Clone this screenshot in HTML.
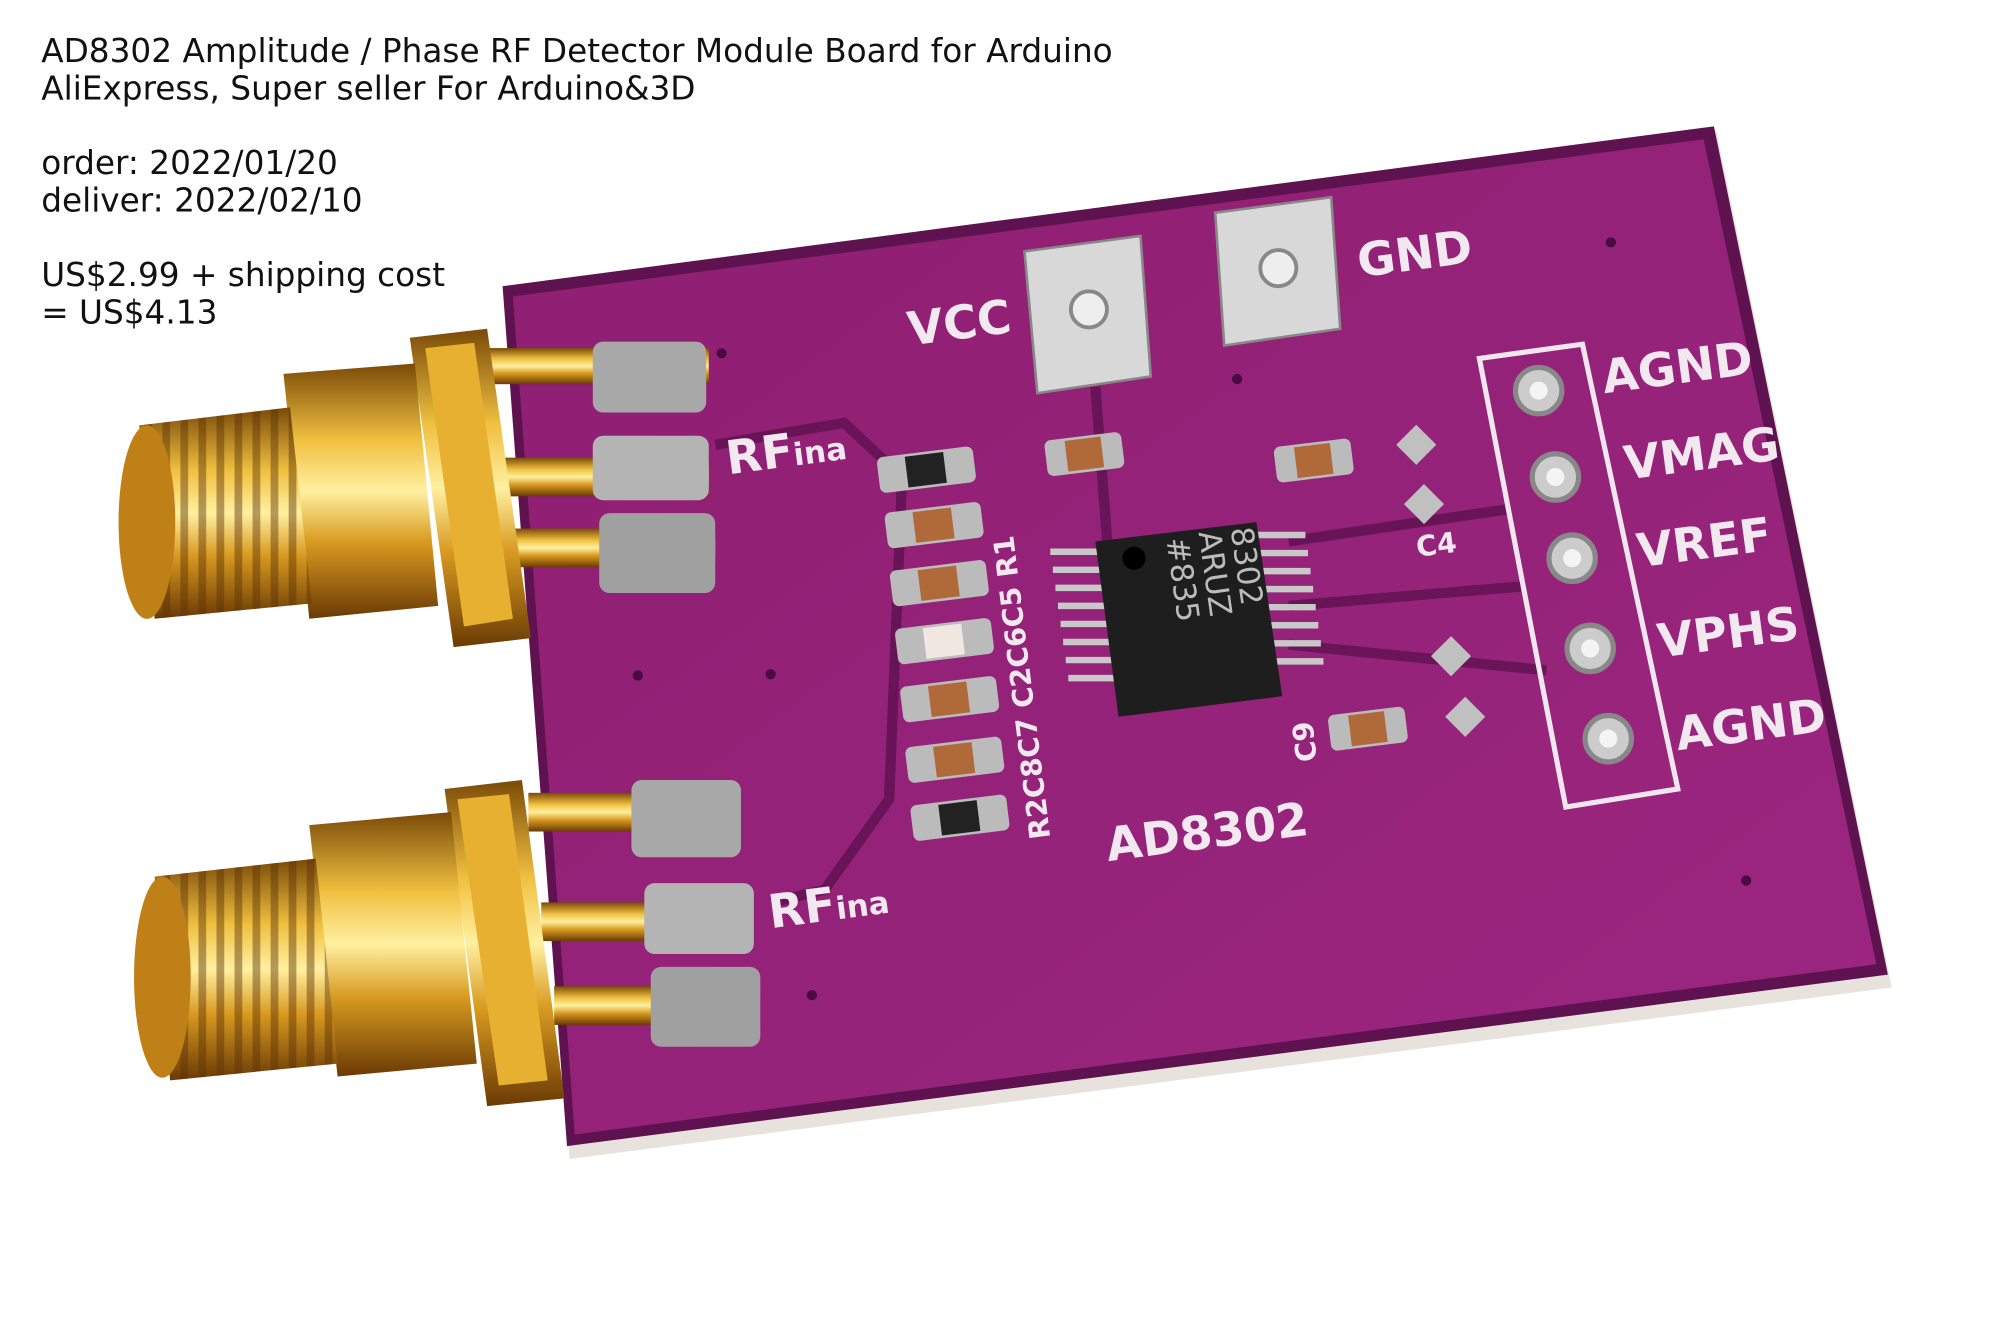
<!DOCTYPE html>
<html><head><meta charset="utf-8">
<style>
html,body{margin:0;padding:0;background:#fff;width:2000px;height:1333px;overflow:hidden}
svg{display:block}
.t{font-family:"DejaVu Sans","Liberation Sans",sans-serif;font-size:25.4px;fill:#111}
.w{font-family:"DejaVu Sans","Liberation Sans",sans-serif;fill:#f2e8f0;font-weight:bold}
</style></head>
<body>
<svg width="2000" height="1333" viewBox="0 0 1552 1034" preserveAspectRatio="none" xmlns="http://www.w3.org/2000/svg">
<defs>
<linearGradient id="gold" x1="0" y1="0" x2="0" y2="1">
<stop offset="0" stop-color="#7a4a08"/><stop offset="0.3" stop-color="#f0c040"/><stop offset="0.5" stop-color="#fff0a0"/><stop offset="0.7" stop-color="#d89a20"/><stop offset="1" stop-color="#6a3a05"/>
</linearGradient>
<linearGradient id="board" x1="0" y1="0" x2="1" y2="1">
<stop offset="0" stop-color="#8e1f72"/><stop offset="1" stop-color="#9c2680"/>
</linearGradient>
<pattern id="thread" width="14" height="10" patternUnits="userSpaceOnUse">
<rect x="0" width="6" height="10" fill="#5a3006" opacity="0.45"/>
</pattern>
</defs>
<rect width="1552" height="1034" fill="#fff"/>
<text class="t" x="32" y="48">AD8302 Amplitude / Phase RF Detector Module Board for Arduino</text>
<text class="t" x="32" y="77">AliExpress, Super seller For Arduino&amp;3D</text>
<text class="t" x="32" y="135">order: 2022/01/20</text>
<text class="t" x="32" y="164">deliver: 2022/02/10</text>
<text class="t" x="32" y="222">US$2.99 + shipping cost</text>
<text class="t" x="32" y="251">= US$4.13</text>

<polygon points="392,228 1332,102 1468,766 442,899" fill="#e8e2dc"/>
<polygon points="390,222 1330,98 1465,756 440,889" fill="#5e1250"/>
<polygon points="398,230 1322,108 1456,748 446,880" fill="url(#board)"/>
<g stroke="#5e1250" stroke-width="8" fill="none" opacity="0.8">
<path d="M555,345 L655,328 L700,370 L690,620 L640,690 L600,700"/>
<path d="M850,300 L860,430"/>
<path d="M1000,420 L1170,395"/>
<path d="M1000,470 L1180,455"/>
<path d="M1000,500 L1200,520"/>
</g>
<polygon points="795,195 885,183 893,292 805,305" fill="#d8d8d8" stroke="#888" stroke-width="2"/>
<circle cx="845" cy="240" r="14" fill="#eee" stroke="#888" stroke-width="3"/>
<polygon points="943,165 1033,153 1040,255 950,268" fill="#d8d8d8" stroke="#888" stroke-width="2"/>
<circle cx="992" cy="208" r="14" fill="#eee" stroke="#888" stroke-width="3"/>
<text class="w" font-size="36" transform="translate(706,268) rotate(-7.5)">VCC</text>
<text class="w" font-size="36" transform="translate(1055,215) rotate(-7.5)">GND</text>
<polygon points="1148,278 1228,267 1302,612 1215,626" fill="none" stroke="#f0e6ee" stroke-width="4"/>
<g fill="#ccc" stroke="#888" stroke-width="4">
<circle cx="1194" cy="303" r="18"/><circle cx="1207" cy="370" r="18"/><circle cx="1220" cy="433" r="18"/><circle cx="1234" cy="503" r="18"/><circle cx="1248" cy="573" r="18"/>
</g>
<g fill="#f4f4f4"><circle cx="1194" cy="303" r="7"/><circle cx="1207" cy="370" r="7"/><circle cx="1220" cy="433" r="7"/><circle cx="1234" cy="503" r="7"/><circle cx="1248" cy="573" r="7"/></g>
<g class="w" font-size="36">
<text transform="translate(1245,305) rotate(-7.5)">AGND</text>
<text transform="translate(1262,372) rotate(-7.5)">VMAG</text>
<text transform="translate(1272,440) rotate(-7.5)">VREF</text>
<text transform="translate(1288,510) rotate(-7.5)">VPHS</text>
<text transform="translate(1302,582) rotate(-7.5)">AGND</text>
<text transform="translate(860,668) rotate(-7.5)">AD8302</text>
<text transform="translate(565,368) rotate(-7.5)">RF<tspan font-size="24">ina</tspan></text>
<text transform="translate(598,720) rotate(-7.5)">RF<tspan font-size="24">ina</tspan></text>
</g>
<g class="w" font-size="22">
<text transform="translate(1100,432) rotate(-7.5)">C4</text>
<text transform="translate(1022,590) rotate(-97)">C9</text>
<text transform="translate(815,650) rotate(-97)">R2C8C7 C2C6C5 R1</text>
</g>
<g stroke="#c8c8c8" stroke-width="5">
<path d="M815,428h38M817,442h38M819,456h38M821,470h38M823,484h38M825,498h38M827,512h38M829,526h38"/>
<path d="M975,415h38M977,429h38M979,443h38M981,457h38M983,471h38M985,485h38M987,499h38M989,513h38"/>
</g>
<polygon points="850,420 975,405 995,540 868,556" fill="#1e1e1e"/>
<circle cx="880" cy="433" r="9" fill="#000"/>
<text font-family="DejaVu Sans,sans-serif" font-size="24" fill="#bbb" transform="translate(955,410) rotate(82)">8302</text>
<text font-family="DejaVu Sans,sans-serif" font-size="24" fill="#bbb" transform="translate(930,413) rotate(82)">ARUZ</text>
<text font-family="DejaVu Sans,sans-serif" font-size="24" fill="#bbb" transform="translate(905,418) rotate(82)">#835</text>
<g>
<g transform="translate(680,355) rotate(-7)"><rect width="75" height="28" rx="5" fill="#bbb"/><rect x="22" y="2" width="30" height="24" fill="#222"/></g>
<g transform="translate(686,398) rotate(-7)"><rect width="75" height="28" rx="5" fill="#bbb"/><rect x="22" y="2" width="30" height="24" fill="#b06a3a"/></g>
<g transform="translate(690,443) rotate(-7)"><rect width="75" height="28" rx="5" fill="#bbb"/><rect x="22" y="2" width="30" height="24" fill="#b06a3a"/></g>
<g transform="translate(694,488) rotate(-7)"><rect width="75" height="28" rx="5" fill="#bbb"/><rect x="22" y="2" width="30" height="24" fill="#f0e8e0"/></g>
<g transform="translate(698,533) rotate(-7)"><rect width="75" height="28" rx="5" fill="#bbb"/><rect x="22" y="2" width="30" height="24" fill="#b06a3a"/></g>
<g transform="translate(702,580) rotate(-7)"><rect width="75" height="28" rx="5" fill="#bbb"/><rect x="22" y="2" width="30" height="24" fill="#b06a3a"/></g>
<g transform="translate(706,625) rotate(-7)"><rect width="75" height="28" rx="5" fill="#bbb"/><rect x="22" y="2" width="30" height="24" fill="#222"/></g>
<g transform="translate(810,342) rotate(-7)"><rect width="60" height="28" rx="5" fill="#bbb"/><rect x="16" y="2" width="28" height="24" fill="#b06a3a"/></g>
<g transform="translate(988,347) rotate(-7)"><rect width="60" height="28" rx="5" fill="#bbb"/><rect x="16" y="2" width="28" height="24" fill="#b06a3a"/></g>
<g transform="translate(1030,555) rotate(-7)"><rect width="60" height="28" rx="5" fill="#bbb"/><rect x="16" y="2" width="28" height="24" fill="#b06a3a"/></g>
</g>
<g fill="#c0c0c0"><rect x="1088" y="334" width="22" height="22" transform="rotate(-45 1099 345)"/><rect x="1094" y="380" width="22" height="22" transform="rotate(-45 1105 391)"/><rect x="1115" y="498" width="22" height="22" transform="rotate(-45 1126 509)"/><rect x="1126" y="545" width="22" height="22" transform="rotate(-45 1137 556)"/></g>

<g>
<rect x="380" y="270" width="170" height="28" fill="url(#gold)"/>
<rect x="385" y="355" width="165" height="30" fill="url(#gold)"/>
<rect x="395" y="410" width="160" height="30" fill="url(#gold)"/>
<rect x="460" y="265" width="88" height="55" rx="8" fill="#a8a8a8"/>
<rect x="460" y="338" width="90" height="50" rx="8" fill="#b4b4b4"/>
<rect x="465" y="398" width="90" height="62" rx="8" fill="#a0a0a0"/>
<polygon points="318,262 378,255 412,495 352,502" fill="url(#gold)"/>
<polygon points="330,270 368,266 398,480 360,486" fill="#e8b030"/>
<polygon points="220,290 322,282 340,470 240,480" fill="url(#gold)"/>
<polygon points="108,330 225,316 242,468 120,480" fill="url(#gold)"/>
<polygon points="108,330 225,316 242,468 120,480" fill="url(#thread)"/>
<ellipse cx="114" cy="405" rx="22" ry="75" fill="#c08018"/>
</g>
<g>
<rect x="410" y="615" width="160" height="30" fill="url(#gold)"/>
<rect x="420" y="700" width="160" height="30" fill="url(#gold)"/>
<rect x="430" y="765" width="155" height="30" fill="url(#gold)"/>
<rect x="490" y="605" width="85" height="60" rx="8" fill="#a8a8a8"/>
<rect x="500" y="685" width="85" height="55" rx="8" fill="#b4b4b4"/>
<rect x="505" y="750" width="85" height="62" rx="8" fill="#a0a0a0"/>
<polygon points="345,612 405,605 438,852 378,858" fill="url(#gold)"/>
<polygon points="355,620 395,616 425,838 387,842" fill="#e8b030"/>
<polygon points="240,640 350,630 370,825 262,835" fill="url(#gold)"/>
<polygon points="120,680 245,666 262,825 132,838" fill="url(#gold)"/>
<polygon points="120,680 245,666 262,825 132,838" fill="url(#thread)"/>
<ellipse cx="126" cy="758" rx="22" ry="78" fill="#c08018"/>
</g>
<g fill="#4a0c40"><circle cx="1250" cy="188" r="4"/><circle cx="560" cy="274" r="4"/><circle cx="495" cy="524" r="4"/><circle cx="598" cy="523" r="4"/><circle cx="630" cy="772" r="4"/><circle cx="1355" cy="683" r="4"/><circle cx="960" cy="294" r="4"/></g>
</svg>
</body></html>
